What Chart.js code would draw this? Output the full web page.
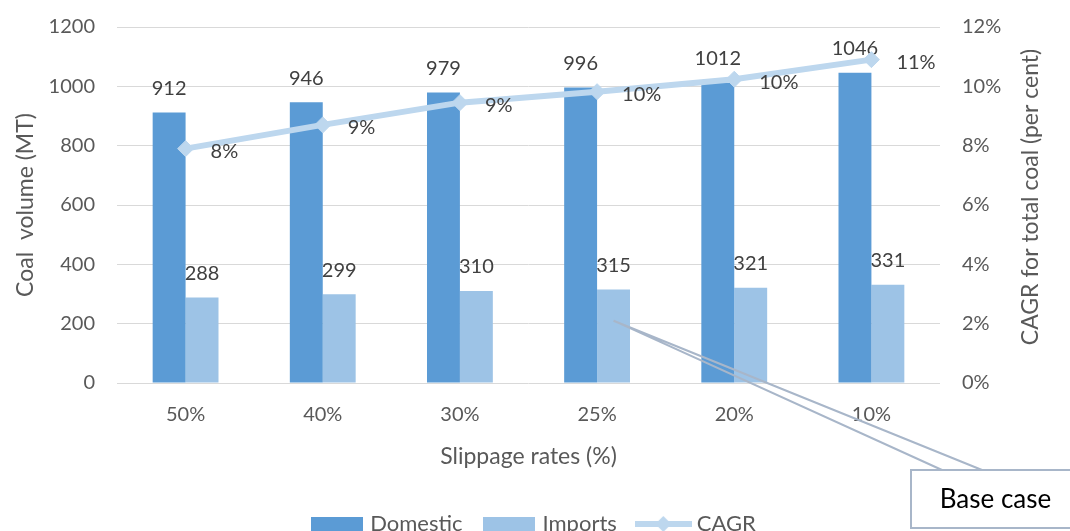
<!DOCTYPE html>
<html>
<head>
<meta charset="utf-8">
<title>Coal volume and CAGR by slippage rate</title>
<script src="https://cdn.jsdelivr.net/npm/chart.js@4.4.0/dist/chart.umd.min.js"></script>
<style>
  html, body { margin: 0; padding: 0; background: #fff; }
  #wrap { width: 1070px; height: 531px; overflow: hidden; position: relative; }
</style>
</head>
<body>
<div id="wrap"><canvas id="coalChart" width="1070" height="545"></canvas></div>
<script>
// Chart data
const categories = ['50%', '40%', '30%', '25%', '20%', '10%'];
const domestic = [912, 946, 979, 996, 1012, 1046];
const imports = [288, 299, 310, 315, 321, 331];
const cagr = [7.9, 8.7, 9.45, 9.82, 10.24, 10.9];
const volumeTicks = [0, 200, 400, 600, 800, 1000, 1200];
const cagrTicks = [0, 2, 4, 6, 8, 10, 12];
const baseCaseIndex = 3;
const baseCaseText = 'Base case';
const rightAxisTitle = 'CAGR for total coal (per cent)';

// Colours and fonts
const colors = {
    domestic: '#5b9bd5',
    imports: '#9dc3e6',
    cagr: '#bdd7ee',
    axisText: '#595959',
    labelText: '#404040',
    grid: '#d9d9d9',
    callout: '#a8b6c9'
};
const fontFamily = 'Lato, "Liberation Sans", sans-serif';

// Legend swatches (bars as boxes, CAGR as line with diamond)
function makeBoxSwatch(color) {
    const c = document.createElement('canvas');
    c.width = 52;
    c.height = 14;
    const g = c.getContext('2d');
    g.fillStyle = color;
    g.fillRect(0, 0, 52, 14);
    return c;
}

function makeLineSwatch(color) {
    const c = document.createElement('canvas');
    c.width = 57;
    c.height = 18;
    const g = c.getContext('2d');
    g.strokeStyle = color;
    g.lineWidth = 6;
    g.beginPath();
    g.moveTo(0, 9);
    g.lineTo(57, 9);
    g.stroke();
    g.fillStyle = color;
    g.beginPath();
    g.moveTo(28.5, 1);
    g.lineTo(36.5, 9);
    g.lineTo(28.5, 17);
    g.lineTo(20.5, 9);
    g.closePath();
    g.fill();
    return c;
}

const legendSwatches = [
    makeBoxSwatch(colors.domestic),
    makeBoxSwatch(colors.imports),
    makeLineSwatch(colors.cagr)
];

// Value labels: bar labels right after each bar set, CAGR labels at the end
const valueLabels = {
    id: 'valueLabels',
    afterDatasetDraw(chart, args) {
        const ds = chart.data.datasets[args.index];
        if (ds.type !== 'bar') return;
        const ctx = chart.ctx;
        ctx.save();
        ctx.font = '20px ' + fontFamily;
        ctx.fillStyle = colors.labelText;
        ctx.textAlign = 'center';
        ctx.textBaseline = 'middle';
        args.meta.data.forEach((bar, i) => {
            ctx.fillText(ds.data[i], bar.x, bar.y - 24);
        });
        ctx.restore();
    },
    afterDatasetsDraw(chart) {
        const meta = chart.getDatasetMeta(2);
        const ctx = chart.ctx;
        ctx.save();
        ctx.font = '20px ' + fontFamily;
        ctx.fillStyle = colors.labelText;
        ctx.textAlign = 'left';
        ctx.textBaseline = 'middle';
        meta.data.forEach((pt, i) => {
            ctx.fillText(Math.round(cagr[i]) + '%', pt.x + 25, pt.y + 3);
        });
        ctx.restore();
    }
};

// Right axis title, reading bottom to top like the left one
const rightTitle = {
    id: 'rightTitle',
    afterDraw(chart) {
        const s = chart.scales.y1;
        const ctx = chart.ctx;
        ctx.save();
        ctx.translate(s.right - 39, (chart.chartArea.top + chart.chartArea.bottom) / 2 - 8);
        ctx.rotate(-Math.PI / 2);
        ctx.font = '23px ' + fontFamily;
        ctx.fillStyle = colors.axisText;
        ctx.textAlign = 'center';
        ctx.textBaseline = 'middle';
        ctx.fillText(rightAxisTitle, 0, 0);
        ctx.restore();
    }
};

// "Base case" callout pointing at the imports bar of the base case
const baseCaseCallout = {
    id: 'baseCaseCallout',
    afterDraw(chart) {
        const ctx = chart.ctx;
        const bar = chart.getDatasetMeta(1).data[baseCaseIndex];
        const ax = bar.x;
        const ay = chart.scales.y.getPixelForValue(imports[baseCaseIndex] * 2 / 3);
        const boxLeft = chart.width - 159;
        const boxTop = 470;

        ctx.save();
        ctx.strokeStyle = colors.callout;
        ctx.lineWidth = 2;
        ctx.beginPath();
        ctx.moveTo(ax, ay);
        ctx.lineTo(boxLeft + 31, boxTop);
        ctx.moveTo(ax, ay);
        ctx.lineTo(boxLeft + 71, boxTop);
        ctx.stroke();

        ctx.fillStyle = '#ffffff';
        ctx.fillRect(boxLeft, boxTop, 200, 58);
        ctx.strokeRect(boxLeft, boxTop, 200, 58);

        ctx.fillStyle = '#000000';
        ctx.font = '26px ' + fontFamily;
        ctx.textAlign = 'center';
        ctx.textBaseline = 'middle';
        ctx.fillText(baseCaseText, boxLeft + 84.5, boxTop + 30);
        ctx.restore();
    }
};

const ctx = document.getElementById('coalChart').getContext('2d');
const chart = new Chart(ctx, {
    data: {
        labels: categories,
        datasets: [
            {
                type: 'bar',
                label: 'Domestic',
                data: domestic,
                backgroundColor: colors.domestic,
                yAxisID: 'y',
                order: 1
            },
            {
                type: 'bar',
                label: 'Imports',
                data: imports,
                backgroundColor: colors.imports,
                yAxisID: 'y',
                order: 1
            },
            {
                type: 'line',
                label: 'CAGR',
                data: cagr,
                yAxisID: 'y1',
                borderColor: colors.cagr,
                backgroundColor: colors.cagr,
                borderWidth: 6,
                pointStyle: 'rectRot',
                pointRadius: 8,
                pointBorderWidth: 1,
                tension: 0,
                order: 0
            }
        ]
    },
    options: {
        responsive: false,
        animation: false,
        layout: { padding: { top: 27, left: 0, right: 0, bottom: 0 } },
        datasets: {
            bar: { categoryPercentage: 0.48, barPercentage: 1 }
        },
        scales: {
            x: {
                grid: { display: false, drawTicks: false },
                border: { display: false },
                ticks: { color: colors.axisText, font: { family: fontFamily, size: 20 }, padding: 20 },
                title: {
                    display: true,
                    text: 'Slippage rates (%)',
                    color: colors.axisText,
                    font: { family: fontFamily, size: 23 },
                    padding: { top: 0, bottom: 19 }
                },
                afterFit(scale) { scale.height = 106; }
            },
            y: {
                position: 'left',
                min: volumeTicks[0],
                max: volumeTicks[volumeTicks.length - 1],
                grid: { color: colors.grid, lineWidth: 1, drawTicks: false },
                border: { display: false },
                ticks: {
                    color: colors.axisText,
                    font: { family: fontFamily, size: 20 },
                    padding: 22,
                    callback: v => String(v)
                },
                afterBuildTicks(scale) { scale.ticks = volumeTicks.map(v => ({ value: v })); },
                title: {
                    display: true,
                    text: 'Coal  volume (MT)',
                    color: colors.axisText,
                    font: { family: fontFamily, size: 23 },
                    padding: { top: 12, bottom: 0 }
                },
                afterFit(scale) {
                    scale.width = 117;
                    scale.paddingTop = 0;
                    scale.paddingBottom = 0;
                }
            },
            y1: {
                position: 'right',
                min: cagrTicks[0],
                max: cagrTicks[cagrTicks.length - 1],
                grid: { display: false, drawTicks: false },
                border: { display: false },
                ticks: {
                    color: colors.axisText,
                    font: { family: fontFamily, size: 20 },
                    padding: 22,
                    callback: v => v + '%'
                },
                afterBuildTicks(scale) { scale.ticks = cagrTicks.map(v => ({ value: v })); },
                afterFit(scale) {
                    scale.width = 130;
                    scale.paddingTop = 0;
                    scale.paddingBottom = 0;
                }
            }
        },
        plugins: {
            legend: {
                position: 'bottom',
                labels: {
                    usePointStyle: true,
                    pointStyleWidth: 45,
                    padding: 24,
                    color: colors.axisText,
                    font: { family: fontFamily, size: 22 },
                    sort: (a, b) => a.datasetIndex - b.datasetIndex,
                    generateLabels(chart) {
                        const items = Chart.defaults.plugins.legend.labels.generateLabels(chart);
                        items.forEach(item => { item.pointStyle = legendSwatches[item.datasetIndex]; });
                        return items;
                    }
                }
            },
            tooltip: { enabled: false }
        }
    },
    plugins: [valueLabels, rightTitle, baseCaseCallout]
});
</script>
</body>
</html>
